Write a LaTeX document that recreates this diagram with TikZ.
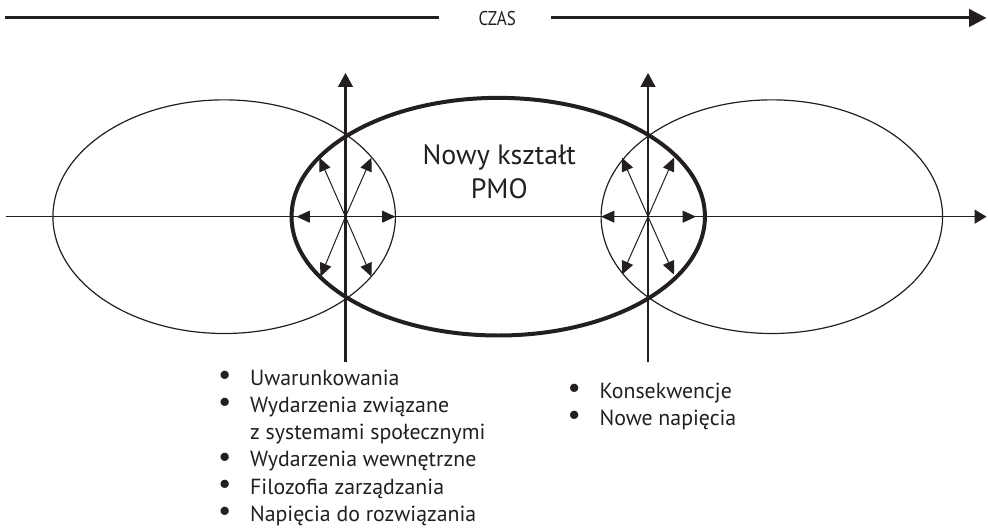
\documentclass[tikz,border=0pt]{standalone}
\usepackage{fontspec}
\setmainfont{PT Sans}
\usetikzlibrary{arrows.meta}
\definecolor{inkgray}{RGB}{35,31,32}

\tikzset{every picture/.style={line width=0.75pt}}
\newcommand{\bigdot}{\raisebox{0.05ex}{\scalebox{1.35}{\textbullet}}}

\begin{document}
\begin{tikzpicture}[x=0.75pt,y=0.75pt,yscale=-1,xscale=1,
  draw=inkgray,
  bigtip/.style={-{Triangle[length=10.5pt,width=11pt]}},
  smalltip/.style={-{Triangle[length=10pt,width=9pt]}},
  listtext/.style={font=\fontsize{16.4}{20.5}\selectfont,text=inkgray}]
\path (0,0) rectangle (988,528); %set diagram size 988 x 528

%Straight Lines: time line
\draw [color=inkgray,line width=2.25]  (5,18) -- (440,18) ;
\draw [color=inkgray,line width=2.25,-{Triangle[length=13pt,width=13pt]}]  (552,18) -- (988,18) ;
% Text Node
\draw (498,19) node [inner sep=0.75pt] [font=\fontsize{15}{17}\selectfont,text=inkgray,xscale=0.85] (czas) {CZAS};

%Shape: Ellipse (left)
\draw [color=inkgray,line width=0.9]  (224.5,217) ellipse [x radius=171.5,y radius=117] ;
%Shape: Ellipse (right)
\draw [color=inkgray,line width=0.9]  (773,217) ellipse [x radius=171,y radius=117] ;
%Shape: Ellipse (new PMO)
\draw [color=inkgray,line width=3]  (499,217) ellipse [x radius=207,y radius=119] ;

%Straight Lines: axes
\draw [color=inkgray,line width=1.1,-{Triangle[length=9pt,width=10.5pt]}]  (6,217) -- (988,217) ;
\draw [color=inkgray,line width=1.6,bigtip]  (346,363) -- (346,73) ;
\draw [color=inkgray,line width=1.6,bigtip]  (649,363) -- (649,73) ;

%Straight Lines: left star
\coordinate (starL) at (346,217);
\draw [color=inkgray,smalltip]  (starL) -- ++(-49,0) ;
\draw [color=inkgray,smalltip]  (starL) -- ++(50,0) ;
\draw [color=inkgray,smalltip]  (starL) -- ++(-26,-59) ;
\draw [color=inkgray,smalltip]  (starL) -- ++(26,-59) ;
\draw [color=inkgray,smalltip]  (starL) -- ++(-25,60) ;
\draw [color=inkgray,smalltip]  (starL) -- ++(26,60) ;

%Straight Lines: right star
\coordinate (starR) at (649,217);
\draw [color=inkgray,smalltip]  (starR) -- ++(-47,0) ;
\draw [color=inkgray,smalltip]  (starR) -- ++(48,0) ;
\draw [color=inkgray,smalltip]  (starR) -- ++(-26,-59) ;
\draw [color=inkgray,smalltip]  (starR) -- ++(26,-59) ;
\draw [color=inkgray,smalltip]  (starR) -- ++(-26,58) ;
\draw [color=inkgray,smalltip]  (starR) -- ++(26,58) ;

% Text Node
\draw (500,143) node [anchor=north][inner sep=0.75pt] [font=\fontsize{21}{25.5}\selectfont,text=inkgray] [align=center] (pmo) {Nowy kształt\\PMO};

% Text Node
\draw (217,365) node [anchor=north west][inner sep=0.75pt] [listtext] (causes) {\begin{tabular}{@{}p{24pt}@{}l@{}}
\bigdot & Uwarunkowania\\
\bigdot & Wydarzenia związane\\
 & z systemami społecznymi\\
\bigdot & Wydarzenia wewnętrzne\\
\bigdot & Filozofia zarządzania\\
\bigdot & Napięcia do rozwiązania
\end{tabular}};
% Text Node
\draw (567,378) node [anchor=north west][inner sep=0.75pt] [listtext] (effects) {\begin{tabular}{@{}p{24pt}@{}l@{}}
\bigdot & Konsekwencje\\
\bigdot & Nowe napięcia
\end{tabular}};

\end{tikzpicture}
\end{document}
